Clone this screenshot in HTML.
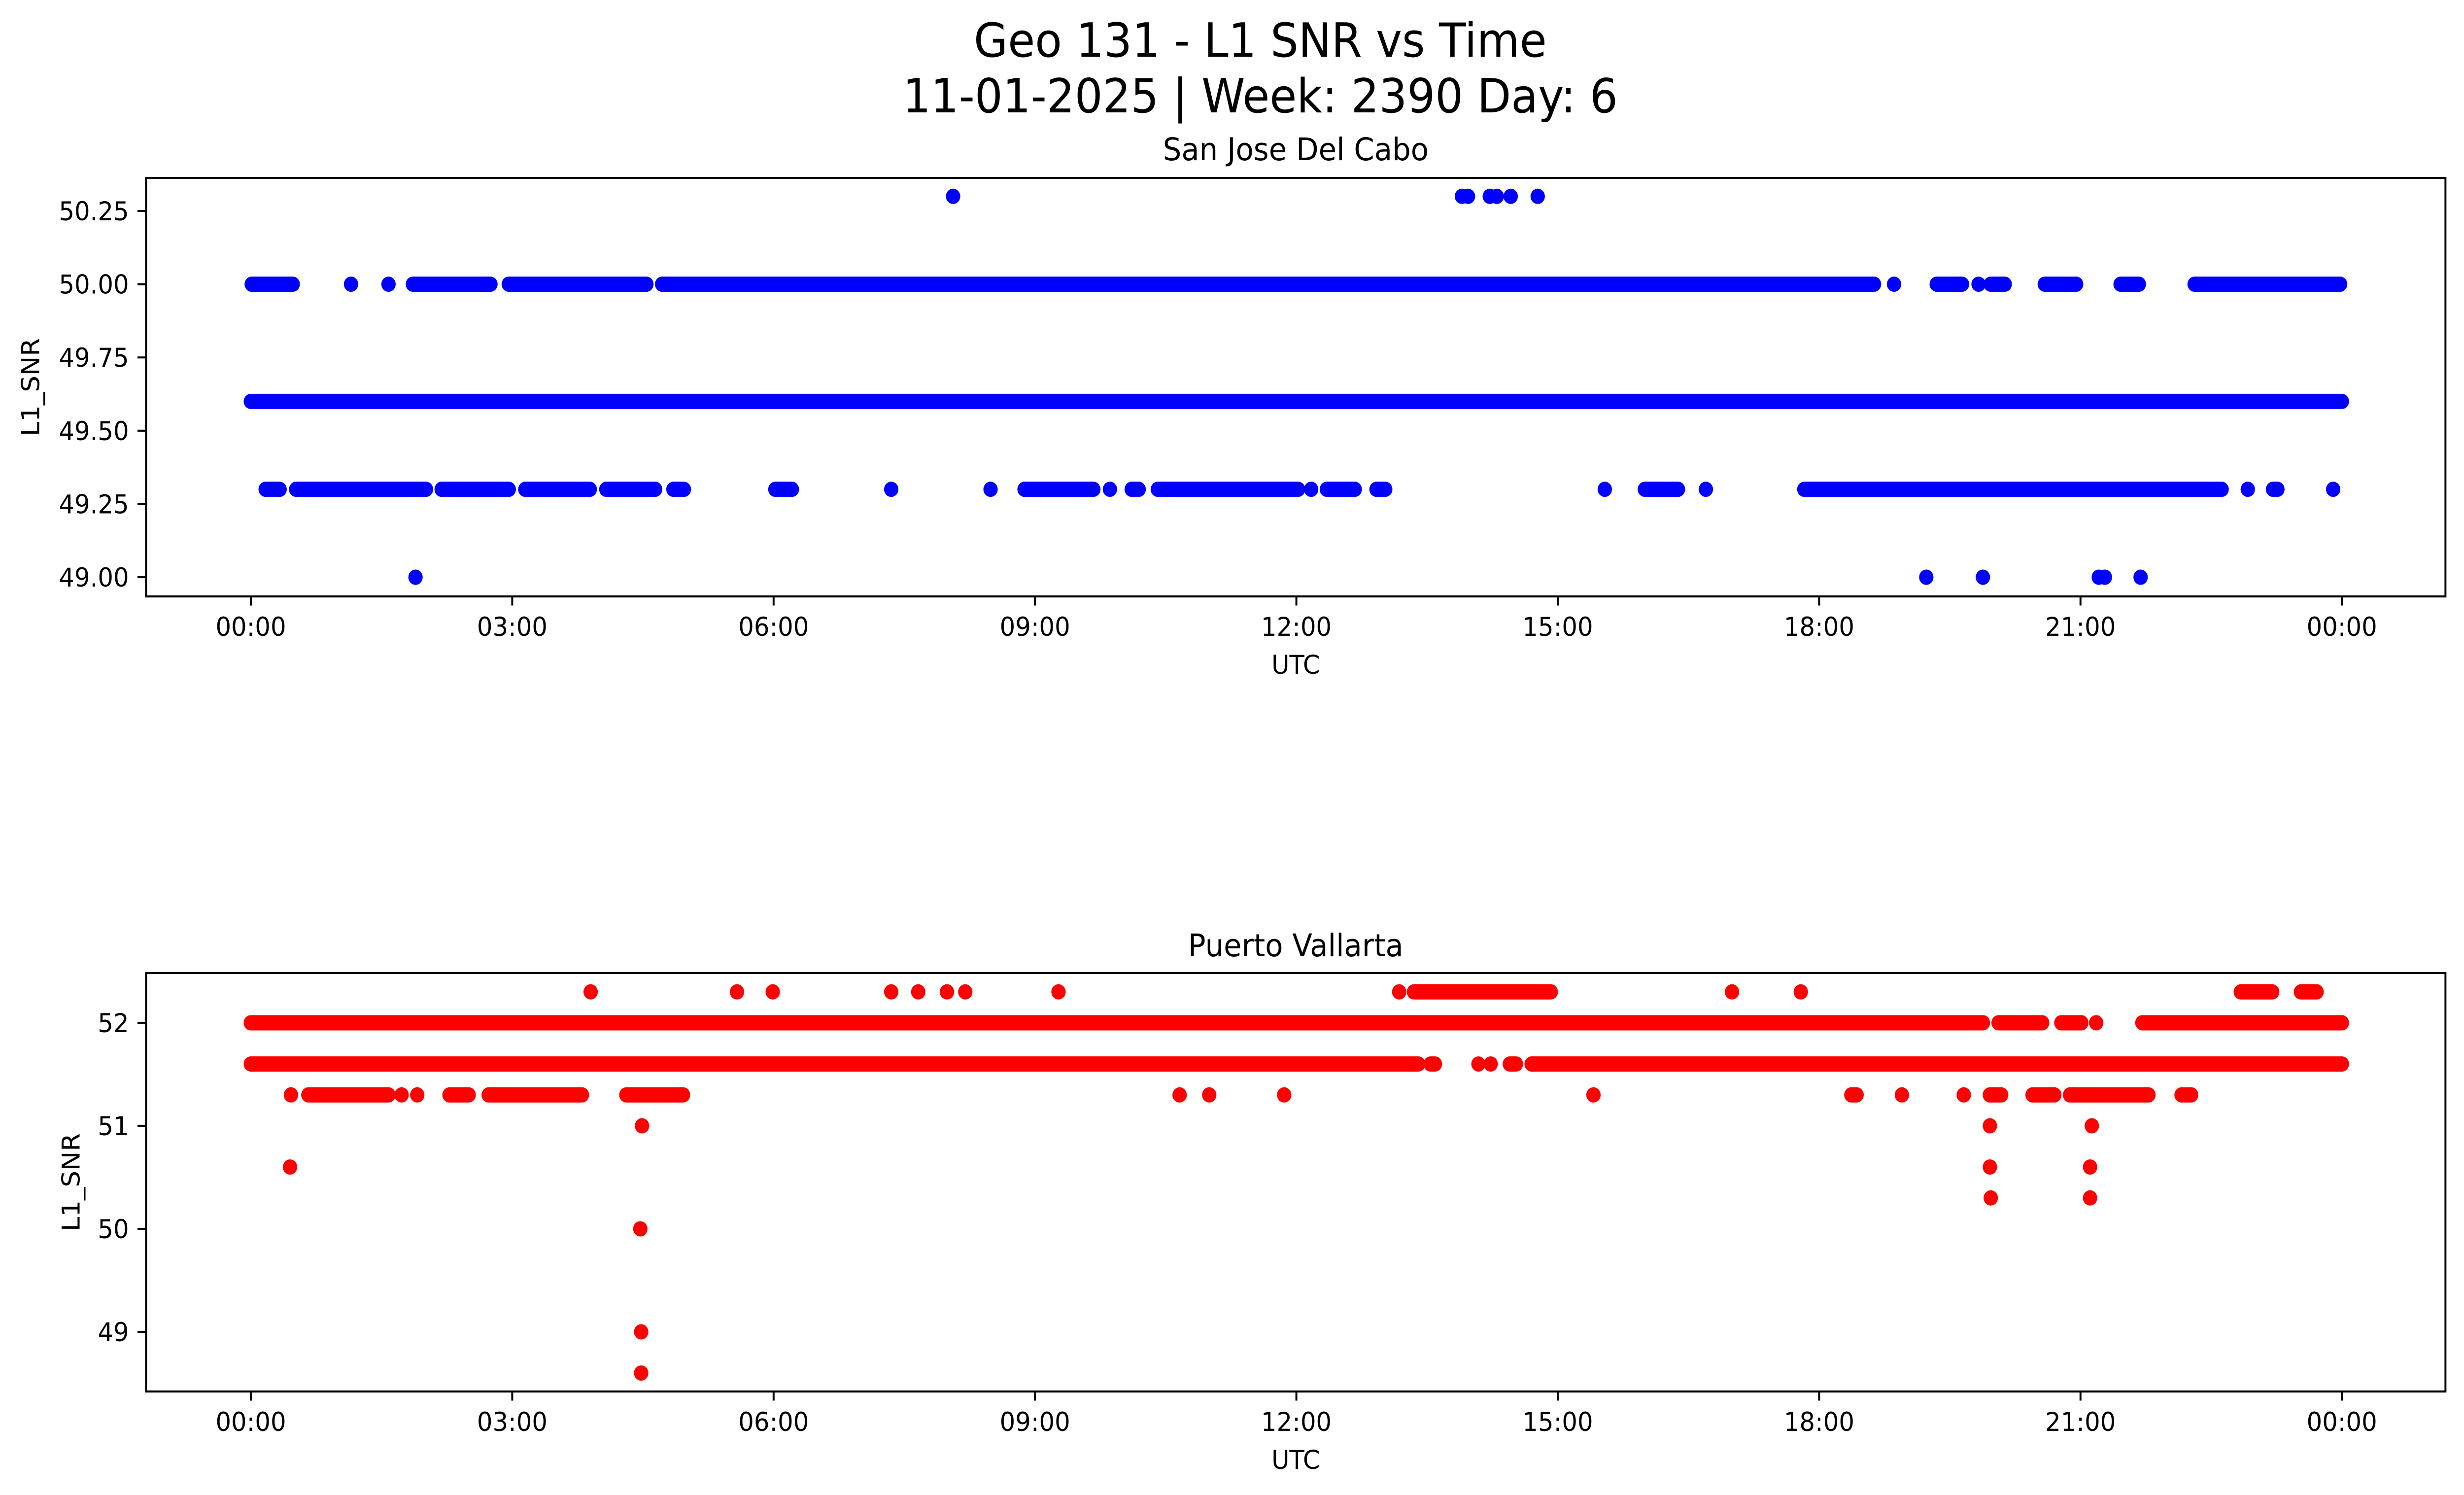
<!DOCTYPE html>
<html><head><meta charset="utf-8"><style>
html,body{margin:0;padding:0;background:#fff;overflow:hidden;width:100vw;height:100vh}
svg{display:block;width:100vw;height:100vh;font-family:"DejaVu Sans","Liberation Sans",sans-serif}
</style></head><body>
<svg id="fig" viewBox="0 0 5314 3033" preserveAspectRatio="none" xmlns="http://www.w3.org/2000/svg">
<rect width="5314" height="3033" fill="#fff"/>
<text x="2718" y="115" font-size="95" text-anchor="middle">Geo 131 - L1 SNR vs Time</text>
<text x="2718" y="228" font-size="95" text-anchor="middle">11-01-2025 | Week: 2390 Day: 6</text>
<g id="top"></g>
<g id="bot"></g>
</svg>
<script>
// ---- data (hours UTC) ----
const xTickLabels = ["00:00","03:00","06:00","09:00","12:00","15:00","18:00","21:00","00:00"];
const xTickHours = [0,3,6,9,12,15,18,21,24];
const topYTicks = [49.00,49.25,49.50,49.75,50.00,50.25];
const botYTicks = [49,50,51,52];

// San Jose Del Cabo: levels, runs [start,end] per level, single points
const topLevels = [50.3, 50.0, 49.6, 49.3, 49.0];
const topRuns = [
  [],
  [[0.01,0.48],[1.86,2.75],[2.96,4.54],[4.72,18.63],[19.35,19.64],[19.97,20.13],[20.59,20.95],[21.46,21.67],[22.31,23.98]],
  [[0,24]],
  [[0.17,0.33],[0.52,2.01],[2.19,2.96],[3.15,3.89],[4.08,4.64],[4.85,4.97],[6.02,6.21],[8.88,9.67],[10.11,10.19],[10.41,12.02],[12.35,12.67],[12.92,13.02],[16.0,16.38],[17.83,22.62],[23.21,23.26]],
  []
];
const topPoints = [
  [8.06,13.90,13.97,14.22,14.30,14.46,14.77],
  [1.15,1.58,18.86,19.83],
  [],
  [7.35,8.49,9.86,12.17,15.54,16.70,22.92,23.90],
  [1.89,19.23,19.88,21.21,21.28,21.69]
];

// Puerto Vallarta
const botLevels = [52.3, 52.0, 51.6, 51.3, 51.0, 50.6, 50.3, 50.0, 49.0, 48.6];
const botRuns = [
  [[13.35,14.92],[22.84,23.2],[23.53,23.71]],
  [[0,19.88],[20.06,20.56],[20.78,21.01],[21.71,24]],
  [[0,13.40],[13.54,13.59],[14.45,14.52],[14.70,24]],
  [[0.66,1.58],[2.28,2.50],[2.73,3.80],[4.31,4.96],[18.37,18.43],[19.96,20.09],[20.45,20.70],[20.88,21.78],[22.16,22.27]],
  [],[],[],[],[],[]
];
const botPoints = [
  [3.90,5.58,5.99,7.35,7.66,7.99,8.20,9.27,13.18,17.0,17.79],
  [21.18],
  [14.09,14.23],
  [0.46,1.73,1.91,10.66,11.0,11.86,15.41,18.95,19.66],
  [4.49,19.96,21.13],
  [0.45,19.96,21.11],
  [19.97,21.11],
  [4.47],
  [4.48],
  [4.48]
];

const NS="http://www.w3.org/2000/svg";
function mk(tag, attrs, parent){const e=document.createElementNS(NS,tag);for(const k in attrs)e.setAttribute(k,attrs[k]);parent.appendChild(e);return e;}
const X0=541, PXH=187.9;
function xScale(h){return X0+h*PXH;}
function topY(v){return 428+(50.25-v)*594.4;}
function botY(v){return 2075+(52-v)*209;}
const R=15.5;

function panel(g, top, bottom, yScale, yTicks, fmt, levels, runs, pts, color, title, titleY, ylabelX){
  const L=315, Rr=5274;
  levels.forEach((lv,i)=>{
    runs[i].forEach(r=>{
      const ln=mk('line',{x1:xScale(r[0]),x2:xScale(r[1]),y1:yScale(lv),y2:yScale(lv),stroke:color,'stroke-width':2*R,'stroke-linecap':'round'},g);
      
      
    });
    pts[i].forEach(h=>{
      const c=mk('circle',{cx:xScale(h),cy:yScale(lv),r:R,fill:color},g);
      
      
    });
  });
  const fr=mk('rect',{x:L,y:top,width:Rr-L,height:bottom-top,fill:'none',stroke:'#000','stroke-width':4.2},g);
  
  
  xTickHours.forEach((h,i)=>{
    const x=xScale(h);
    const t=mk('line',{x1:x,x2:x,y1:bottom,y2:bottom+18.5,stroke:'#000','stroke-width':4.2},g);
    
    
    const tx=mk('text',{x:x,y:bottom+80,'font-size':52.8,'text-anchor':'middle'},g);
    tx.textContent=xTickLabels[i];
    
    
  });
  yTicks.forEach(v=>{
    const y=yScale(v);
    const t=mk('line',{x1:L-18.5,x2:L,y1:y,y2:y,stroke:'#000','stroke-width':4.2},g);
    
    
    const tx=mk('text',{x:L-37,y:y+19,'font-size':52.8,'text-anchor':'end'},g);
    tx.textContent=fmt(v);
    
    
  });
  const xl=mk('text',{x:(L+Rr)/2,y:bottom+157,'font-size':52.8,'text-anchor':'middle'},g);
  xl.textContent='UTC';
  
  
  const cy=(top+bottom)/2;
  const yl=mk('text',{x:ylabelX,y:cy,'font-size':52.8,'text-anchor':'middle',transform:`rotate(-90 ${ylabelX} ${cy})`,'dominant-baseline':'central'},g);
  yl.textContent='L1_SNR';
  
  
  const tt=mk('text',{x:(L+Rr)/2,y:titleY,'font-size':63,'text-anchor':'middle'},g);
  tt.textContent=title;
  
  
}
panel(document.getElementById('top'),361,1210,topY,topYTicks,v=>v.toFixed(2),topLevels,topRuns,topPoints,'#0000ff','San Jose Del Cabo',325,67);
panel(document.getElementById('bot'),1974,2823,botY,botYTicks,v=>String(v),botLevels,botRuns,botPoints,'#ff0000','Puerto Vallarta',1940,154);
</script>
</body></html>
